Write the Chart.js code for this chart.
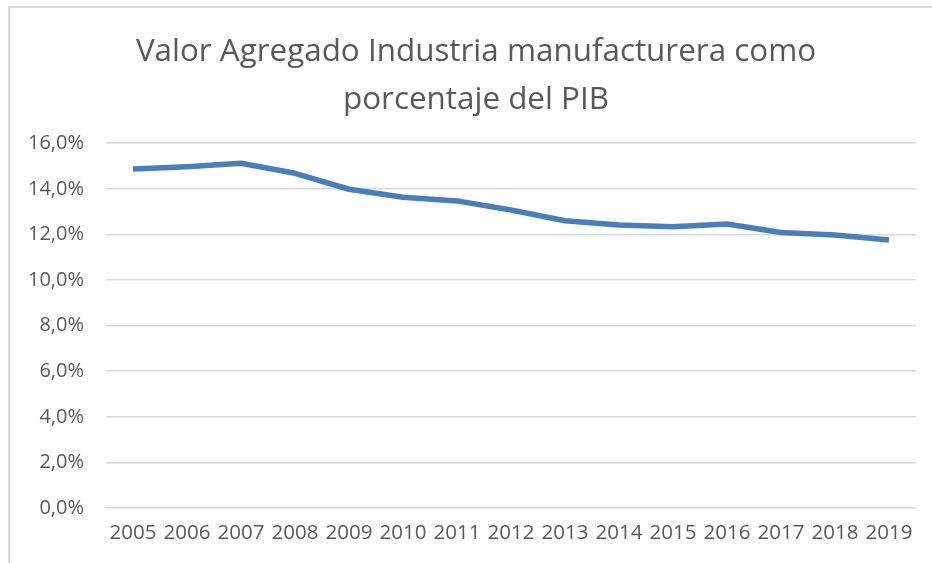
<!DOCTYPE html>
<html>
<head>
<meta charset="utf-8">
<script src="https://cdn.jsdelivr.net/npm/chart.js@4/dist/chart.umd.min.js"></script>
<style>
html,body{margin:0;padding:0;background:#fff;}
#wrap{width:932px;height:563px;}
</style>
</head>
<body>
<div id="wrap"><canvas id="c" width="932" height="563"></canvas></div>
<script>
const years = ['2005','2006','2007','2008','2009','2010','2011','2012','2013','2014','2015','2016','2017','2018','2019'];
const manufShare = [14.87, 14.97, 15.12, 14.68, 13.98, 13.63, 13.47, 13.07, 12.60, 12.41, 12.34, 12.46, 12.08, 11.97, 11.75];
const titleLines = ['Valor Agregado Industria manufacturera como', 'porcentaje del PIB'];
const yMin = 0, yMax = 16, yStep = 2;

const frame = {
  id: 'frame',
  beforeDraw(chart) {
    const ctx = chart.ctx;
    ctx.save();
    ctx.fillStyle = '#fff';
    ctx.fillRect(0, 0, chart.width, chart.height);
    ctx.strokeStyle = '#d9d9d9';
    ctx.lineWidth = 2;
    ctx.beginPath();
    ctx.moveTo(9, chart.height + 2);
    ctx.lineTo(9, 7);
    ctx.lineTo(chart.width + 2, 7);
    ctx.stroke();
    ctx.restore();
  }
};

const titleShift = {
  id: 'titleShift',
  afterLayout(chart) {
    const t = chart.titleBlock;
    if (t) { t.left += 8; t.right += 8; }
  }
};

new Chart(document.getElementById('c'), {
  type: 'line',
  data: {
    labels: years,
    datasets: [{
      data: manufShare,
      borderColor: '#4a7ebb',
      borderWidth: 5.5,
      pointRadius: 0,
      tension: 0,
      fill: false,
      borderCapStyle: 'butt',
      borderJoinStyle: 'round'
    }]
  },
  options: {
    responsive: false,
    animation: false,
    devicePixelRatio: 1,
    layout: { padding: { left: 20, right: 16, top: 0, bottom: 0 } },
    plugins: {
      legend: { display: false },
      tooltip: { enabled: false },
      title: {
        display: true,
        text: titleLines,
        color: '#595959',
        font: { family: 'Open Sans', size: 31.4, weight: 'normal', lineHeight: 1.5 },
        padding: { top: 29, bottom: 20 }
      }
    },
    scales: {
      x: {
        offset: true,
        grid: { display: false, drawTicks: false },
        border: { display: false },
        ticks: {
          color: '#595959',
          font: { family: 'Open Sans', size: 20.5 },
          padding: 13,
          maxRotation: 0,
          autoSkip: false
        },
        afterFit(scale) { scale.height = 55; }
      },
      y: {
        min: yMin,
        max: yMax,
        grid: { color: '#d9d9d9', lineWidth: 1.5, drawTicks: false },
        border: { display: false },
        ticks: {
          stepSize: yStep,
          color: '#595959',
          font: { family: 'Open Sans', size: 20 },
          padding: 22,
          callback: v => v.toFixed(1).replace('.', ',') + '%'
        },
        afterFit(scale) { scale.width = 86; }
      }
    }
  },
  plugins: [frame, titleShift]
});
</script>
</body>
</html>
